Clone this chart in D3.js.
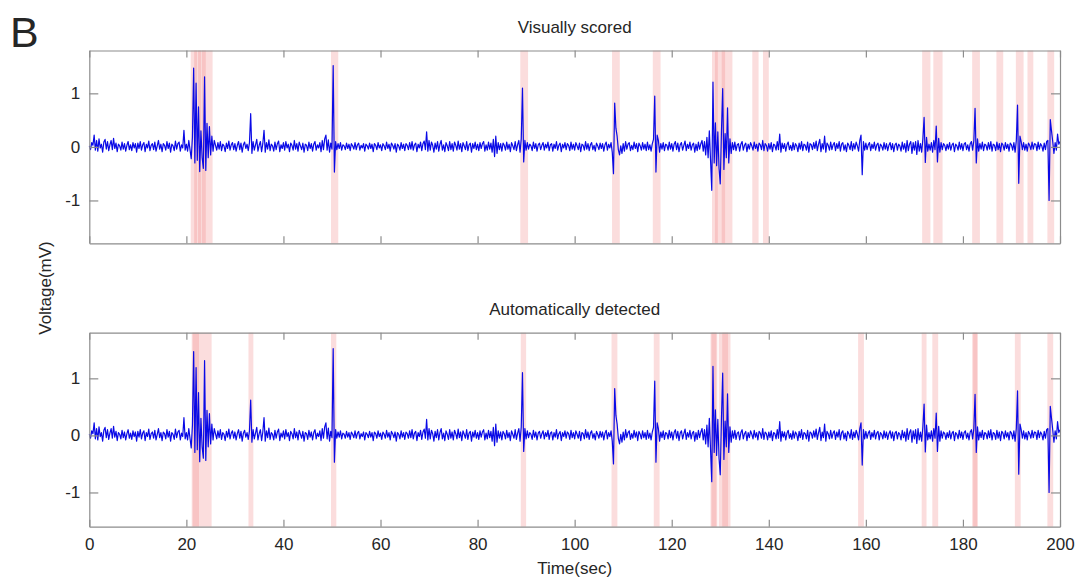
<!DOCTYPE html>
<html>
<head>
<meta charset="utf-8">
<script src="https://cdn.jsdelivr.net/npm/d3@7/dist/d3.min.js"></script>
<style>
body { margin: 0; background: #ffffff; }
</style>
</head>
<body>
<div id="chart-area"></div>
<script>
// Tick labels
var timeTicks = [0, 20, 40, 60, 80, 100, 120, 140, 160, 180, 200];
var voltTicks = [-1, 0, 1];

// Voltage trace (mV): one row per 5 seconds, one value every 0.25 sec
var voltage = [
	[0.02,-0.05,0.08,0.03,0.22,-0.06,0.12,-0.08,0.15,-0.02,0.05,-0.1,0.09,0.14,-0.04,0.1,-0.07,0.04,0.12,-0.05],
	[0.16,-0.03,0.07,-0.09,0.05,0.02,-0.06,0.09,-0.04,0.06,-0.08,0.03,0.1,-0.05,0.04,-0.07,0.08,-0.02,0.06,-0.1],
	[0.07,-0.03,0.1,-0.06,0.04,0.08,-0.09,0.05,-0.02,0.11,-0.07,0.03,0.06,-0.05,0.09,-0.08,0.02,0.12,-0.04,0.05],
	[-0.09,0.06,0.03,-0.06,0.1,-0.03,0.07,-0.1,0.05,0.02,-0.07,0.11,-0.04,0.06,0.09,-0.08,0.04,-0.02,0.31,-0.06],
	[0.05,-0.08,0.12,-0.05,-0.22,0.18,1.47,-0.3,1.19,-0.25,0.75,-0.46,0.3,-0.2,-0.4,1.31,-0.44,0.44,-0.2,0.38],
	[-0.15,0.2,-0.08,0.12,0.03,-0.06,0.08,-0.04,0.1,-0.07,0.05,0.02,-0.09,0.07,-0.03,0.11,-0.06,0.04,0.08,-0.05],
	[0.06,-0.08,0.03,0.1,-0.05,0.07,-0.1,0.04,0.09,-0.03,0.05,-0.07,0.08,0.62,-0.12,0.1,-0.06,0.04,0.14,-0.08],
	[0.03,0.1,-0.09,0.06,0.31,-0.1,0.08,-0.04,0.13,-0.07,0.05,0.02,-0.08,0.09,-0.05,0.06,0.11,-0.09,0.04,-0.03],
	[0.08,-0.06,0.1,-0.02,0.05,-0.09,0.07,0.03,-0.06,0.12,-0.04,0.06,-0.08,0.09,0.02,-0.05,0.07,-0.1,0.05,0.03],
	[-0.07,0.09,-0.03,0.06,-0.08,0.05,0.1,-0.06,0.04,-0.02,0.08,-0.09,0.12,-0.05,0.15,0.22,-0.06,0.13,-0.1,0.07],
	[-0.04,1.52,-0.47,0.1,-0.05,0.06,-0.03,0.08,-0.06,0.04,0.02,-0.05,0.07,-0.03,0.05,-0.07,0.06,0.02,-0.04,0.08],
	[-0.05,0.04,0.07,-0.06,0.03,-0.02,0.06,-0.08,0.05,0.02,-0.04,0.07,-0.03,0.05,-0.09,0.06,0.03,-0.05,0.08,-0.02],
	[0.04,-0.07,0.06,0.02,-0.05,0.09,-0.03,0.05,-0.08,0.07,0.03,-0.04,0.06,-0.1,0.05,0.02,-0.06,0.08,-0.03,0.05],
	[-0.07,0.06,0.03,-0.05,0.08,-0.04,0.1,-0.06,0.04,0.07,-0.09,0.05,-0.02,0.09,-0.07,0.06,0.11,-0.05,0.28,-0.08],
	[0.12,-0.06,0.09,0.03,-0.1,0.07,-0.04,0.1,-0.08,0.05,0.12,-0.06,0.04,-0.09,0.08,0.02,-0.07,0.1,-0.05,0.06],
	[-0.08,0.09,0.03,-0.06,0.11,-0.04,0.06,-0.09,0.08,0.02,-0.05,0.1,-0.07,0.04,0.07,-0.1,0.06,-0.03,0.09,-0.05],
	[0.05,-0.07,0.08,-0.03,0.06,0.1,-0.08,0.04,-0.06,0.09,-0.04,0.07,-0.1,0.14,-0.18,0.2,-0.12,0.08,-0.05,0.06],
	[-0.08,0.07,0.03,-0.06,0.09,-0.04,0.05,-0.09,0.08,0.02,-0.05,0.1,-0.07,0.04,0.12,-0.1,0.15,1.1,-0.28,0.12],
	[-0.06,0.08,-0.04,0.05,0.02,-0.07,0.09,-0.03,0.06,-0.08,0.04,0.07,-0.05,0.03,0.08,-0.06,0.05,-0.02,0.09,-0.07],
	[0.04,0.06,-0.08,0.05,-0.03,0.1,-0.06,0.03,0.07,-0.09,0.05,-0.02,0.08,-0.05,0.06,0.03,-0.07,0.09,-0.04,0.05],
	[-0.06,0.08,0.02,-0.05,0.07,-0.09,0.05,0.03,-0.06,0.1,-0.04,0.06,-0.07,0.04,0.08,-0.05,0.03,-0.08,0.07,0.02],
	[-0.05,0.07,-0.03,0.06,-0.08,0.04,0.09,-0.06,0.05,-0.02,0.08,-0.1,-0.5,0.82,0.35,0.2,-0.05,-0.15,0.02,-0.12],
	[0.06,-0.08,0.1,-0.04,0.05,0.08,-0.07,0.03,-0.05,0.09,-0.03,0.06,-0.09,0.07,0.02,-0.06,0.08,-0.04,0.05,-0.07],
	[0.09,-0.05,0.04,-0.08,0.06,0.14,0.95,-0.47,0.22,0.12,-0.1,0.06,-0.04,0.08,-0.07,0.05,0.03,-0.06,0.09,-0.04],
	[0.06,-0.08,0.05,0.1,-0.05,0.07,-0.09,0.04,0.08,-0.06,0.03,0.11,-0.07,0.05,-0.03,0.09,-0.06,0.04,0.07,-0.1],
	[0.05,-0.07,0.09,-0.04,0.06,0.12,-0.08,0.1,-0.15,0.18,-0.2,0.3,-0.25,-0.81,1.21,-0.3,0.45,-0.35,0.28,-0.4],
	[-0.69,0.3,1.09,-0.42,0.25,-0.2,0.73,-0.3,0.15,-0.12,0.08,-0.05,0.09,-0.07,0.04,0.06,-0.08,0.05,0.1,-0.06],
	[0.03,0.07,-0.09,0.05,-0.04,0.08,0.02,-0.06,0.09,-0.03,0.05,-0.08,0.07,0.04,-0.05,0.12,-0.07,0.06,0.03,-0.08],
	[0.06,-0.04,0.08,-0.09,0.05,0.03,-0.06,0.1,-0.05,0.24,-0.1,0.07,-0.03,0.06,-0.08,0.04,0.09,-0.05,0.03,-0.07],
	[0.08,-0.05,0.06,0.02,-0.09,0.07,-0.04,0.1,-0.07,0.05,0.03,-0.06,0.09,-0.1,0.06,0.04,-0.05,0.08,-0.03,0.11],
	[-0.07,0.05,0.14,-0.09,0.06,-0.04,0.2,-0.1,0.07,0.03,-0.06,0.09,-0.05,0.04,0.08,-0.07,0.06,-0.03,0.1,-0.08],
	[0.05,0.08,-0.06,0.04,-0.09,0.07,0.03,-0.05,0.1,-0.07,0.06,-0.04,0.09,0.02,-0.08,0.12,0.22,-0.52,0.1,-0.06],
	[0.07,-0.05,0.04,0.08,-0.07,0.05,-0.03,0.09,-0.06,0.04,0.07,-0.08,0.05,0.02,-0.06,0.08,-0.04,0.06,-0.07,0.03],
	[0.08,-0.05,0.06,-0.09,0.04,0.07,-0.06,0.05,0.02,-0.08,0.09,-0.04,0.06,-0.1,0.12,-0.07,0.05,0.1,-0.12,0.08],
	[-0.06,0.1,-0.14,0.12,-0.08,0.06,-0.1,0.15,0.55,-0.29,0.18,-0.08,0.05,-0.06,0.08,-0.1,0.12,-0.05,0.39,-0.28],
	[0.16,-0.1,0.08,-0.05,0.06,0.03,-0.07,0.05,-0.04,0.08,-0.06,0.04,0.07,-0.09,0.05,0.02,-0.06,0.09,-0.04,0.06],
	[-0.07,0.05,0.08,-0.05,0.04,-0.08,0.06,0.1,-0.06,0.12,0.72,-0.3,0.15,-0.08,0.06,-0.04,0.09,-0.07,0.05,0.03],
	[-0.06,0.08,-0.04,0.1,-0.08,0.05,0.03,-0.07,0.09,-0.05,0.06,-0.09,0.07,0.04,-0.06,0.08,-0.03,0.05,-0.08,0.07],
	[0.04,-0.06,0.08,-0.1,0.12,0.78,-0.68,0.2,0.1,-0.05,0.08,-0.06,0.05,-0.08,0.07,0.03,-0.05,0.09,-0.04,0.06],
	[0.05,-0.07,0.09,-0.04,0.06,0.02,-0.08,0.07,-0.05,0.1,0.12,-1.0,0.51,0.3,0.1,-0.12,0.08,-0.06,0.24,0.05,0.1]
];

// Shaded epochs [start, end] in seconds
var visualBands = [[20.9,22.2],[21.6,23.0],[22.4,24.0],[23.2,25.4],[49.8,51.3],[88.8,90.4],[107.7,109.3],
	[116.1,117.7],[128.3,129.5],[128.9,131.0],[130.3,132.5],[136.6,137.9],[138.8,140.0],[171.6,173.3],
	[173.9,175.8],[181.9,183.5],[186.9,188.3],[190.9,192.5],[193.3,194.5],[197.4,198.8]];
var autoBands = [[21.1,22.8],[21.3,22.6],[22.8,23.6],[23.6,25.2],[32.8,33.8],[49.8,50.9],[88.9,90.0],
	[107.6,108.8],[116.3,117.5],[128.0,129.4],[128.2,129.2],[129.7,132.1],[130.4,131.6],[158.4,159.6],
	[171.5,172.5],[173.7,174.9],[181.9,183.1],[182.1,182.9],[190.7,191.9],[197.4,198.6]];

var fontFamily = "'Liberation Sans', Arial, sans-serif";
var textColor = "#262626";
var boxColor = "#8c8c8c";

// Plain hyphen minus, like the original figure
function plainNumber(d) { return String(d); }

// Canvas
var canvasWidth = 1076;
var canvasHeight = 579;

var canvas = d3.select("#chart-area")
	.append("svg")
	.attr("width", canvasWidth)
	.attr("height", canvasHeight)
	.style("font-family", fontFamily);

canvas.append("rect")
	.attr("width", canvasWidth)
	.attr("height", canvasHeight)
	.attr("fill", "#ffffff");

// Flatten trace into samples
var samples = [];
voltage.forEach(function(row, r) {
	row.forEach(function(v, j) {
		samples.push({ t: r * 5 + j * 0.25, v: v });
	});
});

// X - Scale (shared)
var x = d3.scaleLinear()
	.domain([0, 200])
	.range([89.3, 1060]);

function drawPanel(top, bottom, yDomain, bands, title, showTimeLabels) {
	var y = d3.scaleLinear()
		.domain(yDomain)
		.range([bottom, top]);

	var panel = canvas.append("g");

	// Shaded epochs
	panel.selectAll("rect.band")
		.data(bands)
		.enter()
		.append("rect")
		.attr("class", "band")
		.attr("x", function(d) { return x(d[0]); })
		.attr("width", function(d) { return x(d[1]) - x(d[0]); })
		.attr("y", top)
		.attr("height", bottom - top)
		.attr("fill", "#f08080")
		.attr("opacity", 0.27);

	// Trace
	var line = d3.line()
		.x(function(d) { return x(d.t); })
		.y(function(d) { return y(d.v); });

	panel.append("path")
		.datum(samples)
		.attr("d", line)
		.attr("fill", "none")
		.attr("stroke", "#0a0ae6")
		.attr("stroke-width", 1.2)
		.attr("stroke-linejoin", "round");

	// Box with inward ticks
	var xBottom = panel.append("g")
		.attr("transform", "translate(0," + bottom + ")")
		.call(d3.axisBottom(x).tickValues(timeTicks).tickSizeInner(-7).tickSizeOuter(0).tickPadding(11)
			.tickFormat(showTimeLabels ? plainNumber : function() { return ""; }));
	var xTop = panel.append("g")
		.attr("transform", "translate(0," + top + ")")
		.call(d3.axisTop(x).tickValues(timeTicks).tickSizeInner(-7).tickSizeOuter(0).tickFormat(""));
	var yLeft = panel.append("g")
		.attr("transform", "translate(" + x(0) + ",0)")
		.call(d3.axisLeft(y).tickValues(voltTicks).tickSizeInner(-9).tickSizeOuter(0).tickPadding(9)
			.tickFormat(plainNumber));
	var yRight = panel.append("g")
		.attr("transform", "translate(" + x(200) + ",0)")
		.call(d3.axisRight(y).tickValues(voltTicks).tickSizeInner(-9).tickSizeOuter(0).tickFormat(""));

	[xBottom, xTop, yLeft, yRight].forEach(function(a) {
		a.select(".domain").attr("stroke", boxColor).attr("stroke-width", 1.2);
		a.selectAll(".tick line").attr("stroke", boxColor).attr("stroke-width", 1.2);
		a.selectAll(".tick text")
			.attr("fill", textColor)
			.attr("font-size", "17px")
			.attr("font-family", fontFamily);
	});

	// Panel title
	canvas.append("text")
		.attr("x", (x(0) + x(200)) / 2)
		.attr("y", top - 18)
		.attr("text-anchor", "middle")
		.attr("font-size", "17px")
		.attr("fill", textColor)
		.text(title);
}

drawPanel(50.5, 243.3, [-1.8, 1.8], visualBands, "Visually scored", false);
drawPanel(332.7, 526.7, [-1.6, 1.8], autoBands, "Automatically detected", true);

// Axis labels
canvas.append("text")
	.attr("x", (x(0) + x(200)) / 2)
	.attr("y", 574)
	.attr("text-anchor", "middle")
	.attr("font-size", "17px")
	.attr("fill", textColor)
	.text("Time(sec)");

canvas.append("text")
	.attr("transform", "translate(51,288) rotate(-90)")
	.attr("text-anchor", "middle")
	.attr("font-size", "17px")
	.attr("fill", textColor)
	.text("Voltage(mV)");

// Panel letter
canvas.append("text")
	.attr("x", 10)
	.attr("y", 47)
	.attr("font-size", "43px")
	.attr("fill", textColor)
	.text("B");
</script>
</body>
</html>
